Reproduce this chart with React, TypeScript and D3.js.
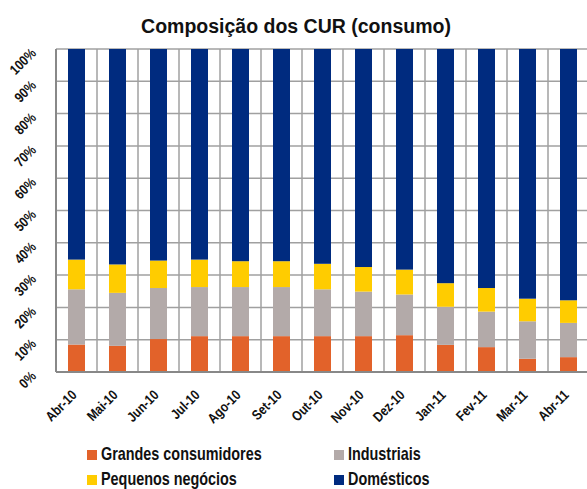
import React, { useRef, useEffect } from "react";
import * as d3 from "d3";

const months = ["Abr-10", "Mai-10", "Jun-10", "Jul-10", "Ago-10", "Set-10", "Out-10", "Nov-10", "Dez-10", "Jan-11", "Fev-11", "Mar-11", "Abr-11"];
const seriesNames = ["Grandes consumidores", "Industriais", "Pequenos negócios", "Domésticos"];
const seriesColors = ["#E2622A", "#B3AAA9", "#FFCC00", "#002B7F"];
const grandes = [8.5, 8.1, 10.2, 11.1, 11.1, 11.1, 11.1, 11.1, 11.4, 8.4, 7.7, 4.1, 4.6];
const industriais = [17.1, 16.4, 15.8, 15.2, 15.2, 15.2, 14.5, 13.8, 12.6, 11.8, 11.0, 11.6, 10.6];
const pequenos = [9.2, 8.8, 8.5, 8.5, 8.0, 8.0, 7.9, 7.6, 7.7, 7.3, 7.3, 7.0, 7.0];
const domesticos = [65.2, 66.7, 65.5, 65.2, 65.7, 65.7, 66.5, 67.5, 68.3, 72.5, 74.0, 77.3, 77.8];
const yTicks = [0, 10, 20, 30, 40, 50, 60, 70, 80, 90, 100];

const W = 587;
const H = 489;
const font = "'Liberation Sans', Arial, sans-serif";

function App() {
  const svgRef = useRef<SVGSVGElement>(null);

  useEffect(() => {
    const svg = d3.select(svgRef.current);
    svg.selectAll("*").remove();

    const left = 56, right = 589, top = 49, bottom = 372;

    const rows = months.map((m, i) => ({
      month: m,
      g: grandes[i],
      i: industriais[i],
      p: pequenos[i],
      d: domesticos[i],
    }));
    const keys = ["g", "i", "p", "d"];
    const stacked = d3.stack<any>().keys(keys).offset(d3.stackOffsetExpand)(rows);

    const x = d3.scaleBand().domain(months).range([left, right]);
    const y = d3.scaleLinear().domain([0, 1]).range([bottom, top]);

    // gridlines
    const grid = svg.append("g");
    grid.selectAll(".hg")
      .data(yTicks)
      .join("line")
      .attr("x1", left).attr("x2", right)
      .attr("y1", t => y(t / 100)).attr("y2", t => y(t / 100))
      .attr("stroke", "#A0A0A0").attr("stroke-width", 1.5);
    grid.selectAll(".vg")
      .data(months)
      .join("line")
      .attr("x1", m => x(m)!).attr("x2", m => x(m)!)
      .attr("y1", top).attr("y2", bottom)
      .attr("stroke", "#A0A0A0").attr("stroke-width", 1.5);

    const barW = 17;
    svg.append("g")
      .selectAll("g")
      .data(stacked)
      .join("g")
      .attr("fill", (_, k) => seriesColors[k])
      .selectAll("rect")
      .data(s => s)
      .join("rect")
      .attr("x", d => x(d.data.month)! + x.bandwidth() / 2 - barW / 2)
      .attr("width", barW)
      .attr("y", d => y(d[1]))
      .attr("height", d => y(d[0]) - y(d[1]));

    // axes lines
    svg.append("line").attr("x1", left).attr("x2", left).attr("y1", top).attr("y2", bottom)
      .attr("stroke", "#888").attr("stroke-width", 2);
    svg.append("line").attr("x1", left).attr("x2", right).attr("y1", bottom).attr("y2", bottom)
      .attr("stroke", "#888").attr("stroke-width", 2);

    // y labels (narrow look via horizontal squeeze)
    svg.append("g")
      .selectAll("text")
      .data(yTicks)
      .join("text")
      .attr("transform", t => `translate(37,${y(t / 100) + 5}) rotate(-45) scale(0.85,1)`)
      .attr("text-anchor", "end")
      .attr("font-family", font)
      .attr("font-weight", "bold")
      .attr("font-size", 14)
      .attr("fill", "#111")
      .text(t => `${t}%`);

    // x labels
    svg.append("g")
      .selectAll("text")
      .data(months)
      .join("text")
      .attr("transform", m => `translate(${x(m)! + x.bandwidth() / 2 + 1},${bottom + 24}) rotate(-45) scale(0.84,1)`)
      .attr("text-anchor", "end")
      .attr("font-family", font)
      .attr("font-weight", "bold")
      .attr("font-size", 14)
      .attr("fill", "#111")
      .text(m => m);

    // title
    svg.append("text")
      .attr("x", 296).attr("y", 33)
      .attr("text-anchor", "middle")
      .attr("font-family", font)
      .attr("font-weight", "bold")
      .attr("font-size", 19.5)
      .attr("fill", "#111")
      .text("Composição dos CUR (consumo)");

    // legend
    const legendPos = [
      [87, 455], [334, 455], [87, 480], [334, 480],
    ];
    const leg = svg.append("g")
      .selectAll("g")
      .data(seriesNames)
      .join("g")
      .attr("transform", (_, k) => `translate(${legendPos[k][0]},${legendPos[k][1]})`);
    leg.append("rect")
      .attr("x", 0).attr("y", -5).attr("width", 10).attr("height", 10)
      .attr("fill", (_, k) => seriesColors[k]);
    leg.append("text")
      .attr("transform", "translate(14,0) scale(0.8,1)")
      .attr("dominant-baseline", "middle")
      .attr("font-family", font)
      .attr("font-weight", "bold")
      .attr("font-size", 18)
      .attr("fill", "#111")
      .text(n => n);
  }, []);

  return (
    <svg
      ref={svgRef}
      width={W}
      height={H}
      style={{ position: "absolute", left: 0, top: 0, background: "#fff" }}
    ></svg>
  );
}

export default App;
